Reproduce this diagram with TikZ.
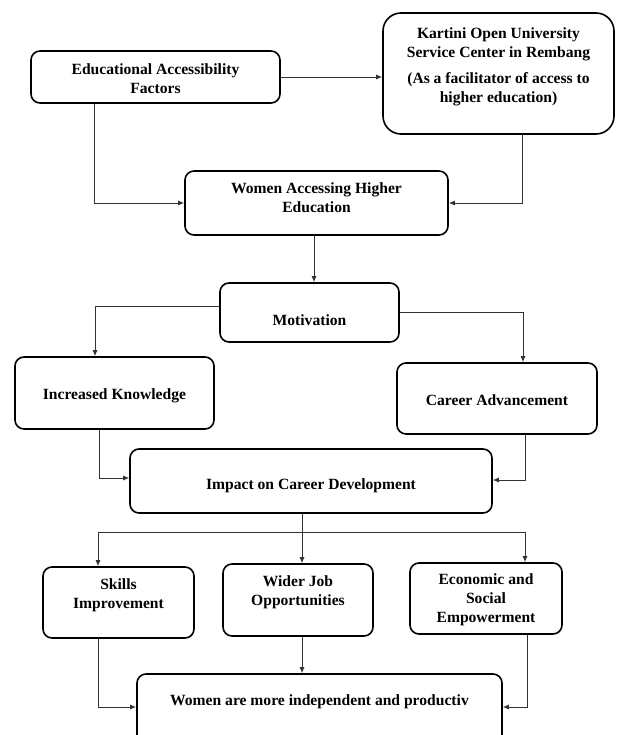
\documentclass[tikz,border=0pt]{standalone}
\usepackage{fontspec}
\setmainfont{Liberation Serif}
\usetikzlibrary{arrows.meta}
\tikzset{
	box/.style={draw, line width=1.6pt, rounded corners=9pt, inner sep=0pt},
	boxtext/.style={align=center, inner sep=0pt, font=\fontsize{15.6}{19}\selectfont\bfseries},
	link/.style={draw=black!80, line width=0.9pt, -{Latex[length=6pt,width=5pt]}}
}

\begin{document}
\begin{tikzpicture}[x=1pt, y=-1pt]
			%%%%% START %%%%%
			
			\useasboundingbox (0, 0) rectangle (616, 735);
			
			\node[box, minimum width=249pt, minimum height=52pt, label={[boxtext, yshift=-1.5pt]center:Educational Accessibility\\Factors}] (edu) at (155.5, 77) {};
			\node[box, rounded corners=18pt, minimum width=231pt, minimum height=121pt, label={[boxtext, yshift=7pt]center:{Kartini Open University\\Service Center in Rembang\\[7pt](As a facilitator of access to\\higher education)}}] (kartini) at (498.5, 73.5) {};
			\node[box, minimum width=263pt, minimum height=64pt, label={[boxtext, yshift=5pt]center:Women Accessing Higher\\Education}] (access) at (316.5, 203) {};
			
			\node[box, minimum width=179pt, minimum height=59pt, label={[boxtext, yshift=-7.5pt]center:Motivation}] (motiv) at (309.5, 312.5) {};
			\node[box, minimum width=199pt, minimum height=72pt, label={[boxtext, yshift=-3pt]center:Increased Knowledge}] (know) at (114.5, 393) {};
			\node[box, minimum width=200pt, minimum height=71pt, label={[boxtext, yshift=-1.5pt]center:Career Advancement}] (career) at (497, 398.5) {};
			
			\node[box, minimum width=362pt, minimum height=64pt, label={[boxtext, yshift=-5pt]center:Impact on Career Development}] (impact) at (311, 481) {};
			
			\node[box, minimum width=151pt, minimum height=71pt, label={[boxtext, yshift=7.5pt]center:Skills\\Improvement}] (skills) at (118.5, 602.5) {};
			\node[box, minimum width=150pt, minimum height=72pt, label={[boxtext, yshift=8pt]center:Wider Job\\Opportunities}] (wider) at (298, 600) {};
			\node[box, minimum width=152pt, minimum height=71pt, label={[boxtext, yshift=-1.5pt]center:Economic and\\Social\\Empowerment}] (econ) at (486, 598.5) {};
			
			\node[box, minimum width=365pt, minimum height=71pt, label={[boxtext, yshift=7.5pt]center:Women are more independent and productiv}] (indep) at (319.5, 709.5) {};
			
			% top part
			\draw[link] (edu.east) -- (edu.east -| kartini.west);
			\draw[link] ([xshift=-61.5pt]edu.south) |- (access.west);
			\draw[link] ([xshift=23.5pt]kartini.south) |- (access.east);
			\draw[link] ([xshift=-2.5pt]access.south) -- ([xshift=-2.5pt]access.south |- motiv.north);
			
			% motivation
			\draw[link] ([yshift=6.5pt]motiv.west) -| ([xshift=-19.5pt]know.north);
			\draw[link] (motiv.east) -| ([xshift=26pt]career.north);
			\draw[link] ([xshift=-15.5pt]know.south) |- ([yshift=3pt]impact.west);
			\draw[link] ([xshift=28pt]career.south) |- ([yshift=1pt]impact.east);
			
			% impact
			\coordinate (split) at (302, 532);
			\draw[link] (split |- impact.south) -- (split |- wider.north);
			\draw[link] (split) -| ([xshift=-20.5pt]skills.north);
			\draw[link] (split) -| ([xshift=39pt]econ.north);
			
			\draw[link] ([xshift=-20.5pt]skills.south) |- ([yshift=2.5pt]indep.west);
			\draw[link] (split |- wider.south) -- (split |- indep.north);
			\draw[link] ([xshift=41pt]econ.south) |- ([yshift=2.5pt]indep.east);
			
			%%%%% END %%%%%
\end{tikzpicture}
\end{document}
